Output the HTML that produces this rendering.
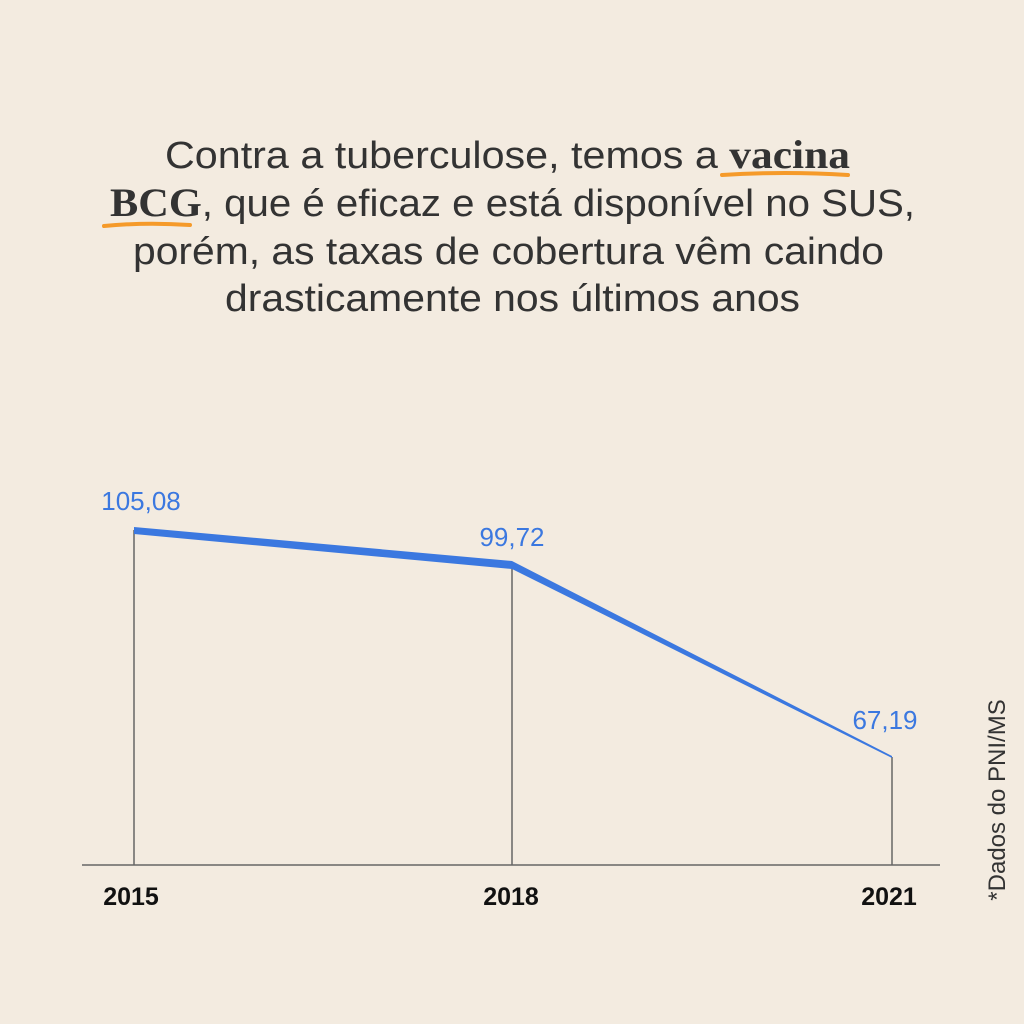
<!DOCTYPE html>
<html><head><meta charset="utf-8"><style>
html,body{margin:0;padding:0;background:#f3ebe0;}
svg{display:block}
</style></head><body>
<svg width="1024" height="1024" viewBox="0 0 1024 1024" xmlns="http://www.w3.org/2000/svg">
<rect width="1024" height="1024" fill="#f3ebe0"/>
<g font-family="Liberation Sans, sans-serif" font-size="38" fill="#333">
<text x="165" y="168" textLength="685" lengthAdjust="spacingAndGlyphs">Contra a tuberculose, temos a <tspan font-family="Liberation Serif, serif" font-weight="bold" font-size="40">vacina</tspan></text>
<text x="110" y="216" textLength="805" lengthAdjust="spacingAndGlyphs"><tspan font-family="Liberation Serif, serif" font-weight="bold" font-size="40">BCG</tspan>, que é eficaz e está disponível no SUS,</text>
<text x="133" y="264" textLength="751" lengthAdjust="spacingAndGlyphs">porém, as taxas de cobertura vêm caindo</text>
<text x="225" y="311" textLength="575" lengthAdjust="spacingAndGlyphs">drasticamente nos últimos anos</text>
</g>
<path d="M722 175 Q785 171 848 175" stroke="#f59a2a" stroke-width="4" fill="none" stroke-linecap="round"/>
<path d="M104 226 Q145 222 190 225" stroke="#f59a2a" stroke-width="4" fill="none" stroke-linecap="round"/>
<g stroke="#666" stroke-width="1.5">
<line x1="82" y1="865" x2="940" y2="865"/>
<line x1="134" y1="530" x2="134" y2="865"/>
<line x1="512" y1="565" x2="512" y2="865"/>
<line x1="892" y1="757" x2="892" y2="865"/>
</g>
<path d="M134 527 L512 561 L892 756 L892 758 L512 569 L134 534 Z" fill="#3b78e0"/>
<g font-family="Liberation Sans, sans-serif" font-size="26" fill="#3b78e0" text-anchor="middle">
<text x="141" y="510">105,08</text>
<text x="512" y="546">99,72</text>
<text x="885" y="729">67,19</text>
</g>
<g font-family="Liberation Sans, sans-serif" font-size="25" font-weight="bold" fill="#111" text-anchor="middle">
<text x="131" y="905">2015</text>
<text x="511" y="905">2018</text>
<text x="889" y="905">2021</text>
</g>
<text transform="translate(1005,800) rotate(-90)" font-family="Liberation Sans, sans-serif" font-size="24" fill="#333" text-anchor="middle">*Dados do PNI/MS</text>
</svg>
</body></html>
